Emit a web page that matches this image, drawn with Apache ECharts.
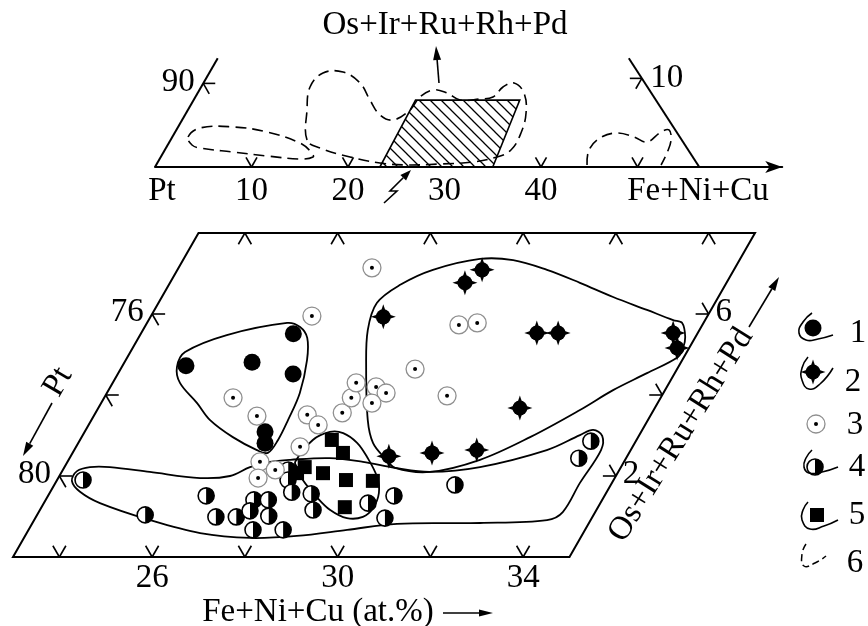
<!DOCTYPE html>
<html><head><meta charset="utf-8">
<script src="https://cdn.jsdelivr.net/npm/echarts@6/dist/echarts.min.js"></script>
<style>html,body{margin:0;padding:0;background:#fff}#c{width:868px;height:626px}</style>
</head><body><div id="c"></div>
<script>
// ================= DATA (ternary: [Fe+Ni+Cu at.%, Os+Ir+Ru+Rh+Pd at.%]) =================
// main diagram frame and ticks
const frameFnc = [23, 35];
const framePge = [0, 8];
const fncTicks = [24, 26, 28, 30, 32, 34];
const pgeTicks = [2, 4, 6];
const bottomLabelValues = [26, 30, 34];
const bottomLabels = ['26', '30', '34'];
const leftLabelValues = [6, 2];
const leftLabels = ['76', '80'];      // Pt
const rightLabelValues = [6, 2];
const rightLabels = ['6', '2'];

// point groups 1-5
const type1 = [[24.37,4.72],[25.75,4.81],[26.29,5.51],[26.78,4.52],[26.89,3.09],[27.03,2.81]];
const type2 = [[28.02,5.93],[29.36,6.77],[29.57,7.09],[31.53,5.53],[31.99,5.53],[34.47,5.53],[34.74,5.16],
               [32.09,3.68],[29.86,2.49],[30.75,2.57],[31.68,2.64]];
const type3 = [[27.17,7.14],[26.47,5.95],[25.78,3.93],[26.52,3.48],[27.59,3.51],[27.95,3.26],[28.32,3.56],
               [28.33,3.93],[28.25,4.30],[28.73,4.20],[29.02,4.05],[28.84,3.80],[29.35,4.64],[29.75,5.73],
               [30.12,5.78],[30.37,3.98],[27.83,2.72],[27.15,2.35],[27.58,2.15],[27.31,1.95]];
const type4 = [[23.56,1.90],[25.33,1.04],[26.41,1.51],[26.88,0.99],[27.32,0.99],[27.49,1.41],[27.80,1.41],
               [27.54,1.14],[28.01,1.01],[27.84,0.67],[28.49,0.67],[27.86,2.15],[27.98,1.90],[28.21,1.60],
               [28.65,1.56],[28.89,1.16],[29.99,1.33],[30.54,0.96],[30.46,1.51],[31.64,1.78],[33.98,2.44],[34.03,2.86]];
const type5 = [[28.43,2.89],[28.83,2.57],[28.18,2.22],[28.09,2.07],[28.65,2.07],[29.23,1.90],[29.82,1.88],[29.54,1.23]];

// field outlines
const contour1 = [[24.18,5.06],[24.87,5.48],[26.02,5.78],[26.35,5.68],[26.64,5.41],[26.91,4.86],[27.16,4.05],
                  [27.24,3.38],[27.27,2.89],[27.21,2.57],[26.94,2.64],[26.26,2.96],[25.56,3.38],[25.07,3.80],
                  [24.45,4.30],[24.19,4.69]];
const contour2 = [[27.71,6.27],[27.99,6.72],[28.51,7.09],[29.39,7.36],[30.12,7.33],[30.97,7.09],[31.84,6.77],
                  [32.73,6.42],[33.62,6.10],[34.31,5.85],[34.54,5.78],[34.78,5.43],[34.87,5.16],[34.87,4.94],
                  [34.40,4.54],[33.88,4.12],[33.41,3.63],[32.67,2.96],[31.87,2.40],[30.94,2.10],[30.14,2.20],
                  [29.80,2.44],[29.36,2.81],[28.96,3.38],[28.27,4.69],[27.85,5.60]];
const contour4 = [[23.33,1.88],[23.32,2.12],[23.55,2.22],[23.98,2.22],[24.90,2.10],[26.06,1.95],[26.68,2.00],
                  [27.00,2.22],[27.37,2.35],[27.78,2.40],[28.61,2.44],[29.37,2.35],[30.14,2.20],[30.94,2.10],
                  [31.96,2.22],[33.19,2.64],[33.72,3.01],[33.94,3.14],[34.21,2.99],[34.36,2.64],[34.31,1.83],
                  [34.30,1.11],[34.06,0.91],[32.65,0.84],[30.87,0.82],[29.87,0.67],[28.86,0.52],[27.88,0.47],
                  [26.74,0.59],[25.50,0.91],[24.21,1.33],[23.64,1.61]];
const contour5 = [[27.91,2.35],[28.02,2.89],[28.29,3.09],[28.59,3.06],[29.01,2.82],[29.40,2.47],[29.86,1.98],
                  [30.10,1.58],[30.16,1.21],[30.05,0.99],[29.72,0.96],[29.26,1.16],[28.81,1.48],[28.30,1.90],[28.03,2.20]];

// inset (whole-triangle) diagram
const insetTicks = [10, 20, 40, 50];
const insetLabelValues = [10, 20, 30, 40];
const insetLabels = ['10', '20', '30', '40'];
const insetLeftEdge = [[0,0],[0,13]];
const insetRightEdge = [[56.4,0],[42.6,13]];
const insetLeftTickPge = [10];
const insetRightTickPge = [10.6];
const hatchField = [[23.3,0],[35,0],[33.8,8],[23,8]];
const dash6a = [[1.63,3.59],[2.33,4.67],[5.69,4.79],[9.51,4.19],[13.59,2.87],[15.43,1.68],[15.78,1.20],
                [14.55,0.96],[10.95,1.32],[7.19,1.79],[3.53,2.27],[2.52,2.63]];
const dash6b = [[14.14,3.23],[12.34,6.82],[11.28,9.57],[11.79,11.24],[13.80,11.36],[16.22,10.05],[18.27,8.01],
                [20.21,6.22],[21.85,5.62],[23.02,6.82],[23.27,8.37],[24.20,9.21],[25.83,8.85],[27.60,8.01],
                [29.61,8.13],[30.84,8.37],[31.28,9.57],[32.18,10.05],[33.81,8.85],[35.22,6.46],[35.89,4.07],
                [35.87,2.03],[34.84,1.20],[32.65,0.60],[29.35,0.36],[25.99,0.24],[23.08,0.48],[19.61,1.20],[15.96,2.27]];
const dash6c = [[44.65,0.24],[43.96,2.03],[44.38,3.47],[45.84,4.07],[47.84,3.59],[49.49,2.99],[50.34,4.19],
                [51.05,4.43],[51.86,3.23],[52.22,1.68],[52.32,0.24]];

// ================= RENDERING =================
const FONT = 'Liberation Serif';
const FS = 33;
const proj = d => [d[0] + d[1] / 2, d[1]];   // ternary -> cartesian (x in at.% units)

function textStyle(text, size, align) {
  return {text: text, fill: '#000', fontSize: size || FS, fontFamily: FONT,
          textAlign: align || 'center', textVerticalAlign: 'middle', align: align || 'center', verticalAlign: 'middle'};
}
function shapeAt(kind, x, y) {
  if (kind === 1) return {type: 'circle', shape: {cx: x, cy: y, r: 8.5}, style: {fill: '#000'}};
  if (kind === 2) {
    const r = 7.5, L = 12.5, w = 2.0;
    return {type: 'group', children: [
      {type: 'circle', shape: {cx: x, cy: y, r: r}, style: {fill: '#000'}},
      {type: 'polygon', shape: {points: [[x - w, y - r + 1], [x + w, y - r + 1], [x, y - L]]}, style: {fill: '#000'}},
      {type: 'polygon', shape: {points: [[x - w, y + r - 1], [x + w, y + r - 1], [x, y + L]]}, style: {fill: '#000'}},
      {type: 'polygon', shape: {points: [[x - r + 1, y - w], [x - r + 1, y + w], [x - L, y]]}, style: {fill: '#000'}},
      {type: 'polygon', shape: {points: [[x + r - 1, y - w], [x + r - 1, y + w], [x + L, y]]}, style: {fill: '#000'}}
    ]};
  }
  if (kind === 3) return {type: 'group', children: [
      {type: 'circle', shape: {cx: x, cy: y, r: 9}, style: {fill: '#fff', stroke: '#8f8f8f', lineWidth: 1.3}},
      {type: 'circle', shape: {cx: x, cy: y, r: 2}, style: {fill: '#000'}}
    ]};
  if (kind === 4) return {type: 'group', children: [
      {type: 'circle', shape: {cx: x, cy: y, r: 8}, style: {fill: '#fff', stroke: '#000', lineWidth: 1.6}},
      {type: 'sector', shape: {cx: x, cy: y, r: 8, r0: 0, startAngle: -Math.PI / 2, endAngle: Math.PI / 2, clockwise: true}, style: {fill: '#000'}}
    ]};
  return {type: 'rect', shape: {x: x - 7, y: y - 7, width: 14, height: 14}, style: {fill: '#000'}};
}
function base(g, data, z) {
  return {type: 'custom', xAxisIndex: g, yAxisIndex: g, coordinateSystem: 'cartesian2d',
          encode: {x: 0, y: 1}, data: data, z: z || 2, silent: true, animation: false};
}
function markerSeries(kind, pts) {
  const s = base(0, pts.map(proj), 4);
  s.renderItem = (p, api) => { const c = api.coord([api.value(0), api.value(1)]); return shapeAt(kind, c[0], c[1]); };
  return s;
}
function polySeries(g, pts, o) {
  const s = base(g, [proj(pts[0])], o.z || 2);
  s.renderItem = (p, api) => ({
    type: o.closed ? 'polygon' : 'polyline',
    shape: {points: pts.map(d => api.coord(proj(d))), smooth: o.smooth || 0},
    style: {fill: o.fill || 'none', stroke: '#000', lineWidth: o.lw || 1.8, lineDash: o.dash || null}
  });
  return s;
}
function tickSeries(g, pts, angles, len) {
  const s = base(g, pts.map(proj), 3);
  s.renderItem = (p, api) => {
    const c = api.coord([api.value(0), api.value(1)]);
    return {type: 'group', children: angles.map(a => ({type: 'line',
      shape: {x1: c[0], y1: c[1], x2: c[0] + len * Math.cos(a), y2: c[1] + len * Math.sin(a)},
      style: {stroke: '#000', lineWidth: 1.6}}))};
  };
  return s;
}
function labelSeries(g, pts, texts, dx, dy) {
  const s = base(g, pts.map(proj), 3);
  s.renderItem = (p, api) => {
    const c = api.coord([api.value(0), api.value(1)]);
    return {type: 'text', x: c[0] + dx, y: c[1] + dy, style: textStyle(texts[p.dataIndex])};
  };
  return s;
}
function hatchPattern() {
  const c = document.createElement('canvas'); c.width = 11; c.height = 11;
  const g = c.getContext('2d'); g.strokeStyle = '#000'; g.lineWidth = 1.3;
  g.beginPath(); g.moveTo(-1, -1); g.lineTo(12, 12); g.moveTo(-1, 10); g.lineTo(1, 12); g.moveTo(10, -1); g.lineTo(12, 1); g.stroke();
  return c;
}
function edgePoint(edge, pge) {
  const t = (pge - edge[0][1]) / (edge[1][1] - edge[0][1]);
  return [edge[0][0] + t * (edge[1][0] - edge[0][0]), pge];
}
function arrow(x1, y1, x2, y2, hl, hw, pts) {
  const a = Math.atan2(y2 - y1, x2 - x1);
  const bx = x2 - hl * Math.cos(a), by = y2 - hl * Math.sin(a);
  const nx = -Math.sin(a) * hw / 2, ny = Math.cos(a) * hw / 2;
  const line = pts ? {type: 'polyline', shape: {points: pts.concat([[bx, by]])}, style: {stroke: '#000', lineWidth: 1.6, fill: 'none'}}
                   : {type: 'line', shape: {x1: x1, y1: y1, x2: bx, y2: by}, style: {stroke: '#000', lineWidth: 1.6}};
  return [line, {type: 'polygon', shape: {points: [[x2, y2], [bx + nx, by + ny], [bx - nx, by - ny]]}, style: {fill: '#000'}}];
}

const D = Math.PI / 180;
const F0 = frameFnc[0], F1 = frameFnc[1], P0 = framePge[0], P1 = framePge[1];
const series = [];
// main frame
series.push(polySeries(0, [[F0, P0], [F1, P0], [F1, P1], [F0, P1]], {closed: true, lw: 2}));
series.push(tickSeries(0, fncTicks.map(v => [v, P0]), [-60 * D, -120 * D], 13));
series.push(tickSeries(0, fncTicks.map(v => [v, P1]), [60 * D, 120 * D], 13));
series.push(tickSeries(0, pgeTicks.map(v => [F0, v]), [0, 60 * D], 13));
series.push(tickSeries(0, pgeTicks.map(v => [F1, v]), [180 * D, 240 * D], 13));
series.push(labelSeries(0, bottomLabelValues.map(v => [v, P0]), bottomLabels, 0, 21));
series.push(labelSeries(0, leftLabelValues.map(v => [F0, v]), leftLabels, -25, -2));
series.push(labelSeries(0, rightLabelValues.map(v => [F1, v]), rightLabels, 15, -2));
// outlines
[contour1, contour2, contour4, contour5].forEach(c => series.push(polySeries(0, c, {closed: true, smooth: 0.35, lw: 1.8})));
// markers
series.push(markerSeries(4, type4));
series.push(markerSeries(5, type5));
series.push(markerSeries(1, type1));
series.push(markerSeries(2, type2));
series.push(markerSeries(3, type3));
// inset
series.push(polySeries(1, hatchField, {closed: true, lw: 1.6, fill: {image: hatchPattern(), repeat: 'repeat'}}));
series.push(polySeries(1, insetLeftEdge, {lw: 2}));
series.push(polySeries(1, insetRightEdge, {lw: 2}));
series.push(tickSeries(1, insetTicks.map(v => [v, 0]), [-60 * D, -120 * D], 11));
series.push(tickSeries(1, insetLeftTickPge.map(v => [insetLeftEdge[0][0], v]), [0, 60 * D], 12));
series.push(tickSeries(1, insetRightTickPge.map(v => edgePoint(insetRightEdge, v)), [180 * D, 120 * D], 12));
series.push(labelSeries(1, insetLabelValues.map(v => [v, 0]), insetLabels, 0, 24));
series.push(labelSeries(1, insetLeftTickPge.map(v => [insetLeftEdge[0][0], v]), ['90'], -25, -1));
series.push(labelSeries(1, insetRightTickPge.map(v => edgePoint(insetRightEdge, v)), ['10'], 25, 0));
series.push(polySeries(1, dash6a, {closed: true, smooth: 0.4, lw: 1.6, dash: [11, 6]}));
series.push(polySeries(1, dash6b, {closed: true, smooth: 0.4, lw: 1.6, dash: [11, 6]}));
series.push(polySeries(1, dash6c, {smooth: 0.4, lw: 1.6, dash: [11, 6]}));

// annotation graphics (titles, arrows, legend)
const gfx = [];
gfx.push({type: 'text', x: 445, y: 25, style: textStyle('Os+Ir+Ru+Rh+Pd')});
gfx.push({type: 'text', x: 162, y: 191, style: textStyle('Pt')});
gfx.push({type: 'text', x: 698, y: 191, style: textStyle('Fe+Ni+Cu')});
gfx.push({type: 'text', x: 318, y: 612, style: textStyle('Fe+Ni+Cu (at.%)')});
gfx.push({type: 'text', x: 58, y: 382, rotation: 60 * D, style: textStyle('Pt')});
gfx.push({type: 'text', x: 681, y: 435, rotation: 58 * D, style: textStyle('Os+Ir+Ru+Rh+Pd')});
arrow(439, 83, 436, 46, 14, 8).forEach(e => gfx.push(e));
arrow(390, 191, 411, 170, 11, 8, [[384, 203], [397, 191], [390, 191]]).forEach(e => gfx.push(e));
arrow(52, 403, 23, 456, 14, 8).forEach(e => gfx.push(e));
arrow(749, 327, 779, 277, 14, 8).forEach(e => gfx.push(e));
arrow(443, 613, 493, 613, 14, 7).forEach(e => gfx.push(e));
// legend
const legendIcons = [[813, 328], [813, 372], [816, 424], [815, 467], [817, 515]];
const legendNums = [[858, 333], [853, 382], [855, 425], [857, 467], [857, 515], [855, 563]];
const swoosh = [
  [[812, 313], [803, 322], [799, 333], [806, 340], [818, 339], [833, 335]],
  [[808, 357], [802, 368], [802, 380], [809, 389], [820, 384], [833, 368]],
  null,
  [[812, 450], [806, 458], [804, 467], [809, 473], [822, 472], [838, 467]],
  [[808, 502], [803, 510], [802, 520], [810, 529], [824, 526], [838, 520]]
];
legendIcons.forEach((p, i) => gfx.push(shapeAt(i + 1, p[0], p[1])));
swoosh.forEach(s => { if (s) gfx.push({type: 'polyline', shape: {points: s, smooth: 0.5}, style: {stroke: '#000', lineWidth: 1.6, fill: 'none'}}); });
gfx.push({type: 'polyline', shape: {points: [[806, 544], [802, 554], [804, 566], [815, 563], [826, 556]], smooth: 0.5},
          style: {stroke: '#000', lineWidth: 1.5, fill: 'none', lineDash: [7, 4]}});
legendNums.forEach((p, i) => gfx.push({type: 'text', x: p[0], y: p[1], style: textStyle(String(i + 1))}));

const chart = echarts.init(document.getElementById('c'));
chart.setOption({
  animation: false,
  backgroundColor: '#fff',
  grid: [
    {left: 13, top: 233, width: 742, height: 324},
    {left: 155, top: 58.3, width: 627.25, height: 108.7}
  ],
  xAxis: [
    {gridIndex: 0, type: 'value', min: 23, max: 39, show: false},
    {gridIndex: 1, type: 'value', min: 0, max: 65, show: true,
     axisLine: {show: true, onZero: false, symbol: ['none', 'arrow'], symbolSize: [9, 17], lineStyle: {color: '#000', width: 2}},
     axisTick: {show: false}, axisLabel: {show: false}, splitLine: {show: false}}
  ],
  yAxis: [
    {gridIndex: 0, type: 'value', min: 0, max: 8, show: false},
    {gridIndex: 1, type: 'value', min: 0, max: 13, show: false}
  ],
  graphic: {elements: gfx},
  series: series
});
</script></body></html>
